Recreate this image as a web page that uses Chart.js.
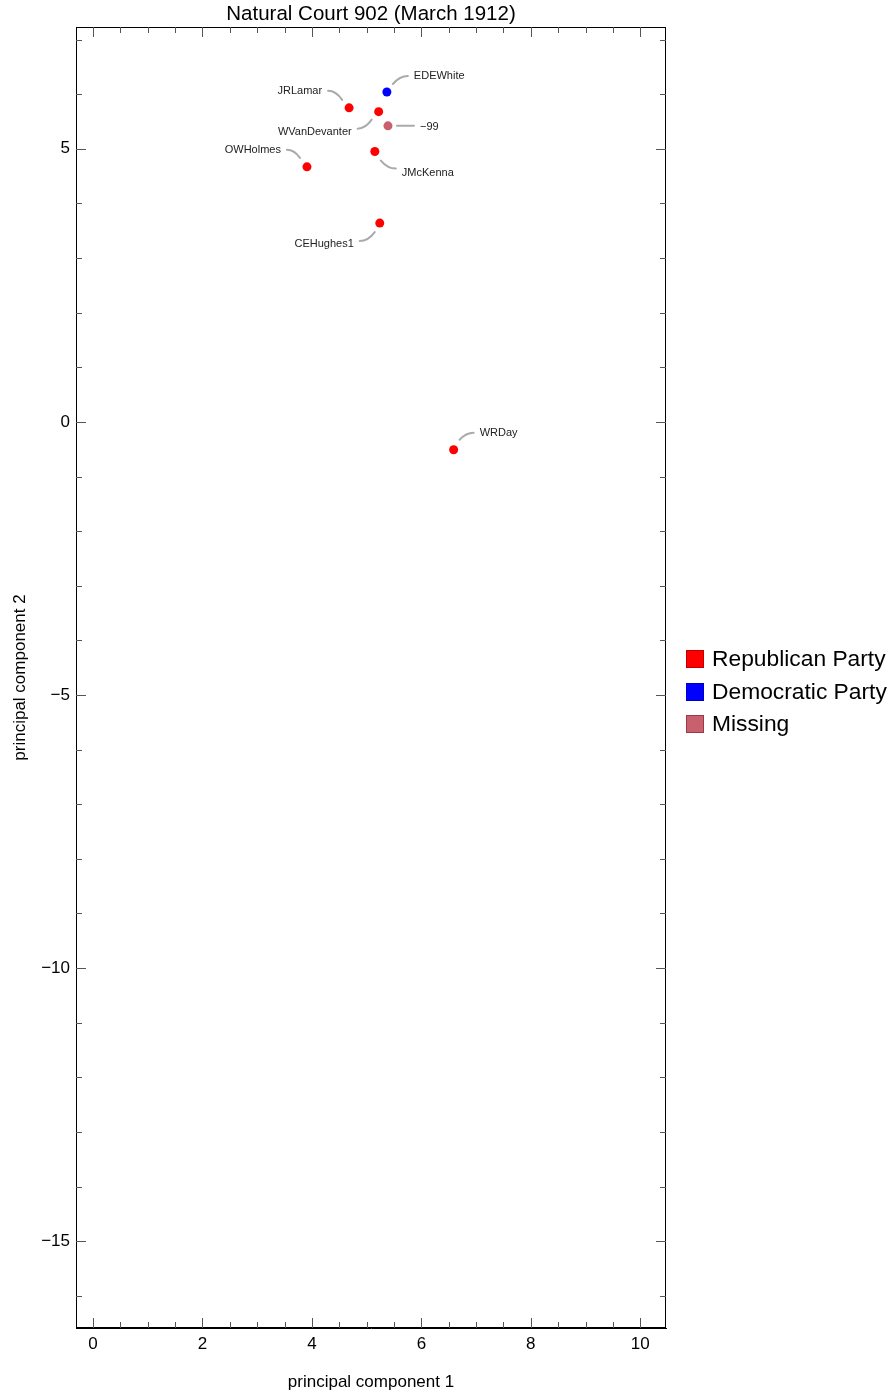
<!DOCTYPE html>
<html><head><meta charset="utf-8">
<script src="https://cdn.jsdelivr.net/npm/chart.js@4"></script>
<style>html,body{margin:0;padding:0;background:#fff}#wrap{width:893px;height:1393px}canvas{display:block}</style>
</head><body><div id="wrap"><canvas id="c" width="893" height="1393"></canvas></div>
<script>
// ---- data ----
const justices = ['EDEWhite','JRLamar','WVanDevanter','-99','OWHolmes','JMcKenna','CEHughes1','WRDay'];
const pc1 = [5.37, 4.68, 5.22, 5.39, 3.91, 5.15, 5.24, 6.59];
const pc2 = [6.04, 5.75, 5.68, 5.42, 4.67, 4.95, 3.64, -0.51];
const party = ['Democratic Party','Republican Party','Republican Party','Missing','Republican Party','Republican Party','Republican Party','Republican Party'];
const partyNames = ['Republican Party','Democratic Party','Missing'];
const xTicks = [0, 2, 4, 6, 8, 10];
const yTicks = [5, 0, -5, -10, -15];
const xRange = [-0.31, 10.47];
const yRange = [-16.59, 7.23];
const titleText = 'Natural Court 902 (March 1912)';
const xTitle = 'principal component 1';
const yTitle = 'principal component 2';

// ---- styles / layout ----
const FONT = '"Liberation Sans", Arial, Helvetica, sans-serif';
const partyColors = {'Republican Party':'#ff0000','Democratic Party':'#0000ff','Missing':'#c8606e'};
const partyBorders = {'Republican Party':'#c00000','Democratic Party':'#0000c0','Missing':'#9a3a48'};
// leader line offsets (px) relative to point: start, end, text side, text dy
const leaders = {
  'EDEWhite':     {s:[6,-8],  e:[21,-16], side:1,  dy:0},
  'JRLamar':      {s:[-7,-8], e:[-21,-17],side:-1, dy:0},
  'WVanDevanter': {s:[-7,8],  e:[-21,17], side:-1, dy:3},
  '-99':          {s:[9,0],   e:[26,0],   side:1,  dy:1},
  'OWHolmes':     {s:[-7,-9], e:[-20,-17],side:-1, dy:0},
  'JMcKenna':     {s:[6,9],   e:[21,17],  side:1,  dy:4},
  'CEHughes1':    {s:[-5,9],  e:[-20,18], side:-1, dy:3},
  'WRDay':        {s:[6,-10], e:[20,-17], side:1,  dy:0}
};

const datasets = partyNames.map(p => ({
  label: p,
  data: justices.map((n,i)=>({x:pc1[i], y:pc2[i], name:n, p:party[i]})).filter(d=>d.p===p),
  backgroundColor: partyColors[p],
  borderWidth: 0,
  pointRadius: 4.5,
  pointHoverRadius: 4.5
}));

const fmt = v => v < 0 ? '\u2212' + Math.abs(v) : String(v);

const framePlugin = {
  id: 'frame',
  afterDraw(chart) {
    const ctx = chart.ctx, a = chart.chartArea;
    const xs = chart.scales.x, ys = chart.scales.y;
    ctx.save();
    ctx.strokeStyle = '#000';
    ctx.lineWidth = 1;
    ctx.strokeRect(Math.round(a.left)+0.5, Math.round(a.top)+0.5, Math.round(a.right-a.left)-1, Math.round(a.bottom-a.top)-1);
    ctx.strokeStyle = '#555';
    ctx.beginPath();
    for (let k = Math.ceil(xRange[0]*2); k <= Math.floor(xRange[1]*2); k++) {
      const v = k/2, px = Math.round(xs.getPixelForValue(v))+0.5;
      const len = (k % 4 === 0) ? 10 : 6;
      ctx.moveTo(px, a.bottom); ctx.lineTo(px, a.bottom-len);
      ctx.moveTo(px, a.top); ctx.lineTo(px, a.top+len);
    }
    for (let v = Math.ceil(yRange[0]); v <= Math.floor(yRange[1]); v++) {
      const py = Math.round(ys.getPixelForValue(v))+0.5;
      const len = (v % 5 === 0) ? 10 : 6;
      ctx.moveTo(a.left, py); ctx.lineTo(a.left+len, py);
      ctx.moveTo(a.right, py); ctx.lineTo(a.right-len, py);
    }
    ctx.stroke();
    ctx.restore();

    // title centred over the plot frame
    ctx.save();
    ctx.font = '20.5px ' + FONT;
    ctx.fillStyle = '#000';
    ctx.textAlign = 'center';
    ctx.textBaseline = 'middle';
    ctx.fillText(titleText, (a.left + a.right) / 2, 14);
    ctx.restore();

    // legend
    ctx.save();
    const lx = 686, rows = [659, 692, 724];
    ctx.font = '22.8px ' + FONT;
    ctx.textBaseline = 'middle';
    ctx.textAlign = 'left';
    partyNames.forEach((p,i)=>{
      ctx.fillStyle = partyColors[p];
      ctx.fillRect(lx, rows[i]-9, 18, 18);
      ctx.strokeStyle = partyBorders[p];
      ctx.lineWidth = 1;
      ctx.strokeRect(lx+0.5, rows[i]-8.5, 17, 17);
      ctx.fillStyle = '#000';
      ctx.fillText(p, lx+26, rows[i]+1);
    });
    ctx.restore();
  }
};

const labelPlugin = {
  id: 'labels',
  afterDatasetsDraw(chart) {
    const ctx = chart.ctx;
    ctx.save();
    ctx.font = '11px ' + FONT;
    ctx.textBaseline = 'middle';
    chart.data.datasets.forEach((ds, di) => {
      const meta = chart.getDatasetMeta(di);
      meta.data.forEach((el, j) => {
        const d = ds.data[j], L = leaders[d.name];
        if (!L) return;
        const sx = el.x + L.s[0], sy = el.y + L.s[1];
        const ex = el.x + L.e[0], ey = el.y + L.e[1];
        ctx.strokeStyle = '#aaaaaa';
        ctx.lineWidth = 2;
        ctx.lineCap = 'round';
        ctx.beginPath();
        ctx.moveTo(sx, sy);
        ctx.quadraticCurveTo(sx + (ex-sx)*0.45, ey, ex, ey);
        ctx.stroke();
        ctx.fillStyle = '#222';
        ctx.textAlign = L.side > 0 ? 'left' : 'right';
        ctx.fillText(d.name === '-99' ? '\u221299' : d.name, ex + 6*L.side, ey + L.dy);
      });
    });
    ctx.restore();
  }
};

new Chart(document.getElementById('c'), {
  type: 'scatter',
  data: { datasets },
  options: {
    responsive: false,
    animation: false,
    devicePixelRatio: 1,
    layout: { padding: { left: 0, right: 227, top: 27, bottom: 0 } },
    plugins: {
      legend: { display: false },
      tooltip: { enabled: false },
      title: { display: false }
    },
    scales: {
      x: {
        type: 'linear', position: 'bottom', min: xRange[0], max: xRange[1],
        afterBuildTicks: s => { s.ticks = xTicks.map(v => ({ value: v })); },
        afterFit: s => { s.height = 65; },
        ticks: { callback: fmt, color: '#000', font: { family: FONT, size: 17 }, padding: 6, maxRotation: 0, autoSkip: false },
        grid: { display: false, drawTicks: false },
        border: { display: true, color: '#000' },
        title: { display: true, text: xTitle, color: '#000', font: { family: FONT, size: 17, lineHeight: 1.2 }, padding: { top: 5.8, bottom: 0 } }
      },
      y: {
        type: 'linear', position: 'left', min: yRange[0], max: yRange[1],
        afterBuildTicks: s => { s.ticks = yTicks.map(v => ({ value: v })); },
        afterFit: s => { s.width = 76; },
        ticks: { callback: fmt, color: '#000', font: { family: FONT, size: 17 }, padding: 6, autoSkip: false },
        grid: { display: false, drawTicks: false },
        border: { display: true, color: '#000' },
        title: { display: true, text: yTitle, color: '#000', font: { family: FONT, size: 17, lineHeight: 1.2 }, padding: { top: 9.8, bottom: 0 } }
      }
    }
  },
  plugins: [labelPlugin, framePlugin]
});
</script>
</body></html>
